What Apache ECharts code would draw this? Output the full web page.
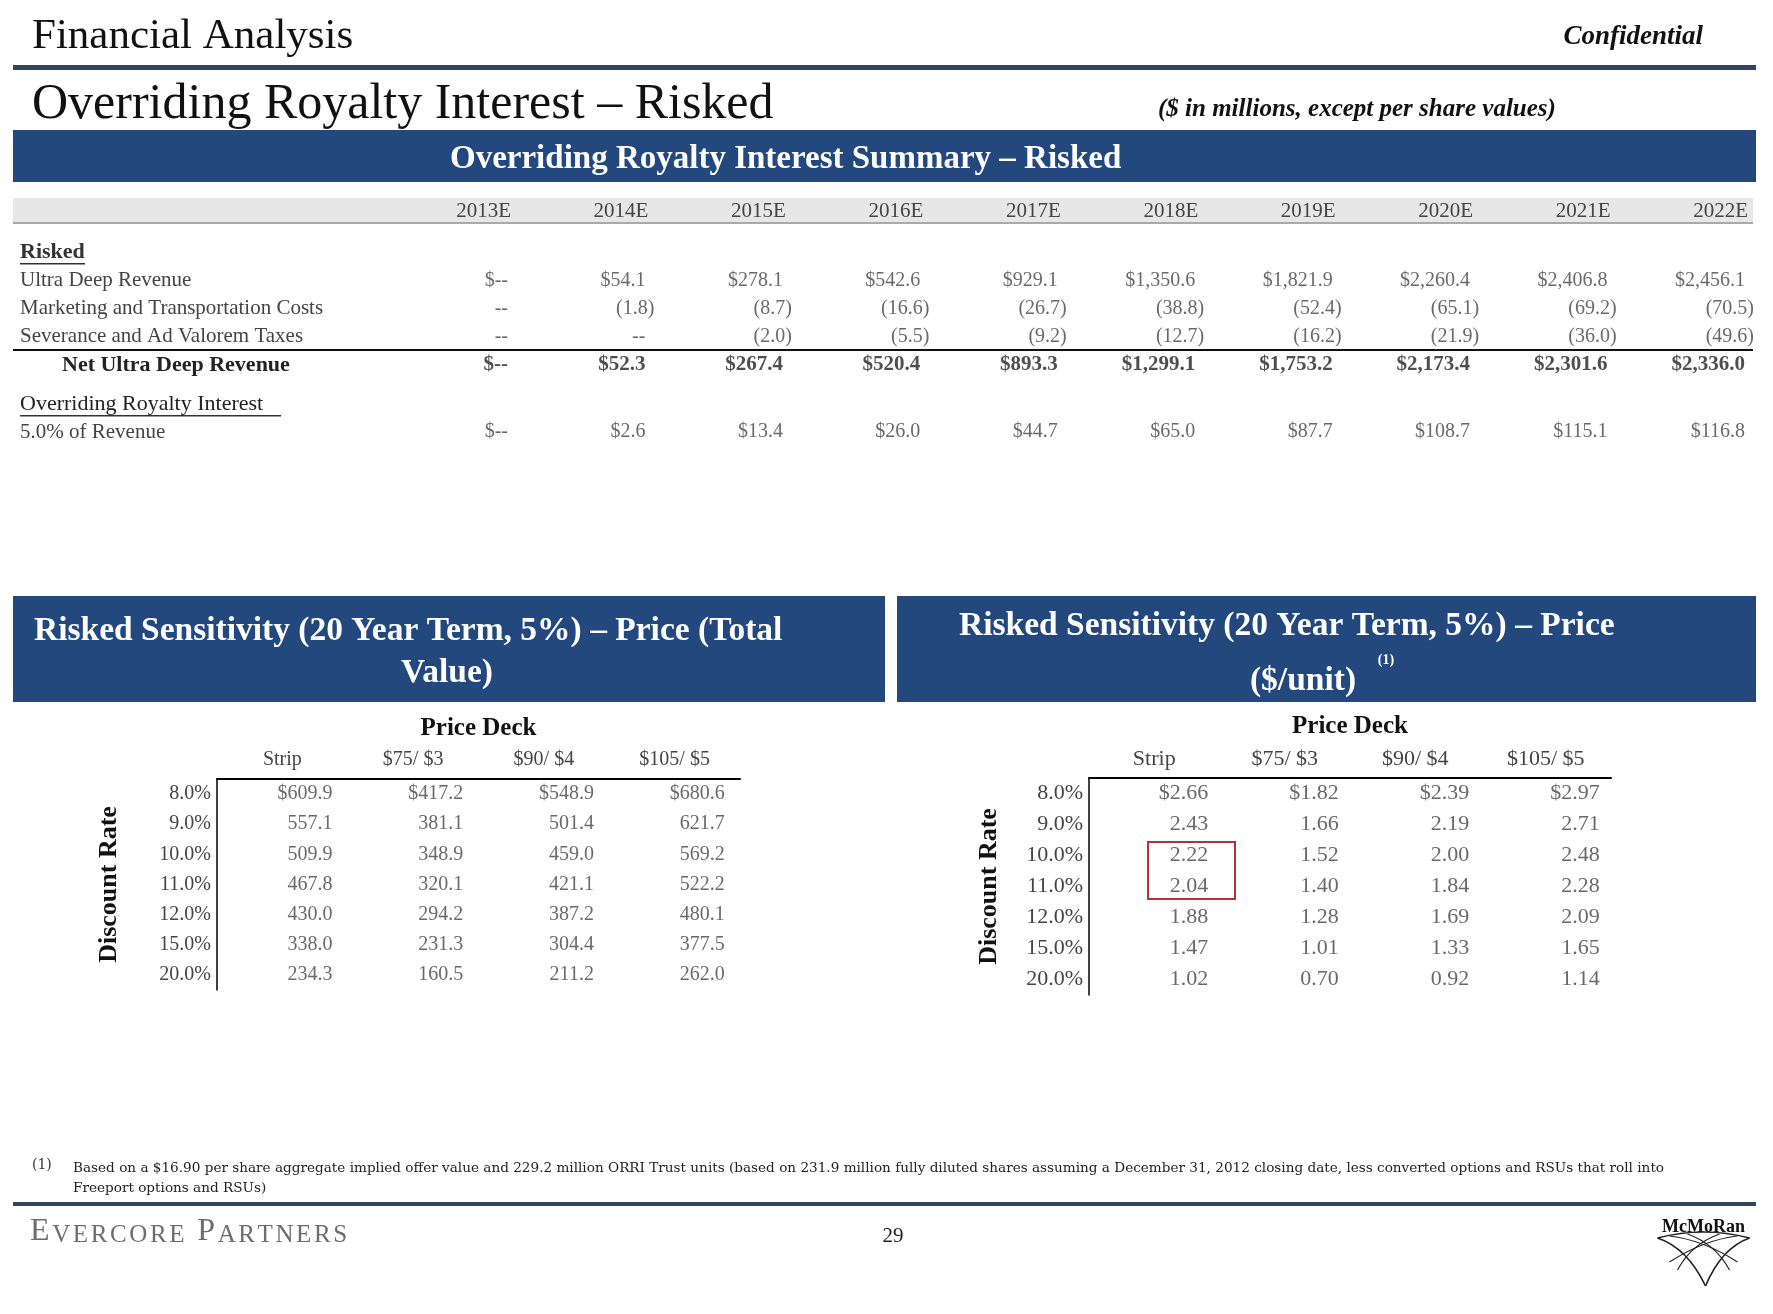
<!DOCTYPE html>
<html>
<head>
<meta charset="utf-8">
<title>Overriding Royalty Interest – Risked</title>
<script src="https://cdn.jsdelivr.net/npm/echarts@6/dist/echarts.min.js"></script>
<style>
  html, body { margin: 0; padding: 0; background: #fff; }
  #chart { width: 1773px; height: 1314px; }
</style>
</head>
<body>
<div id="chart"></div>
<script>
// summary table
const years = ['2013E', '2014E', '2015E', '2016E', '2017E', '2018E', '2019E', '2020E', '2021E', '2022E'];
const summaryRows = ['Risked', 'Ultra Deep Revenue', 'Marketing and Transportation Costs', 'Severance and Ad Valorem Taxes', 'Net Ultra Deep Revenue'];
const orriRows = ['Overriding Royalty Interest', '5.0% of Revenue'];
const ultraDeepRevenue = [null, 54.1, 278.1, 542.6, 929.1, 1350.6, 1821.9, 2260.4, 2406.8, 2456.1];
const marketingCosts = [null, -1.8, -8.7, -16.6, -26.7, -38.8, -52.4, -65.1, -69.2, -70.5];
const severanceTaxes = [null, null, -2.0, -5.5, -9.2, -12.7, -16.2, -21.9, -36.0, -49.6];
const netRevenue = [null, 52.3, 267.4, 520.4, 893.3, 1299.1, 1753.2, 2173.4, 2301.6, 2336.0];
const orriRevenue = [null, 2.6, 13.4, 26.0, 44.7, 65.0, 87.7, 108.7, 115.1, 116.8];

// sensitivity tables
const priceDecks = ['Strip', '$75/ $3', '$90/ $4', '$105/ $5'];
const discountRates = ['8.0%', '9.0%', '10.0%', '11.0%', '12.0%', '15.0%', '20.0%'];
const totalStrip = [609.9, 557.1, 509.9, 467.8, 430.0, 338.0, 234.3];
const total75 = [417.2, 381.1, 348.9, 320.1, 294.2, 231.3, 160.5];
const total90 = [548.9, 501.4, 459.0, 421.1, 387.2, 304.4, 211.2];
const total105 = [680.6, 621.7, 569.2, 522.2, 480.1, 377.5, 262.0];
const unitStrip = [2.66, 2.43, 2.22, 2.04, 1.88, 1.47, 1.02];
const unit75 = [1.82, 1.66, 1.52, 1.40, 1.28, 1.01, 0.70];
const unit90 = [2.39, 2.19, 2.00, 1.84, 1.69, 1.33, 0.92];
const unit105 = [2.97, 2.71, 2.48, 2.28, 2.09, 1.65, 1.14];

const SERIF = "'Liberation Serif', 'Times New Roman', serif";
const NAVY = '#23487e';
const RULE = '#2f4560';

function fmtMoney(v, dollar, digits) {
  if (v == null) return dollar ? '$--' : '--';
  const s = Math.abs(v).toFixed(digits).replace(/\B(?=(\d{3})+(?!\d))/g, ',');
  if (v < 0) return '(' + s + ')';
  return (dollar ? '$' : '') + s;
}

// one scatter series per table row, labels only
function rowSeries(values, rowIdx, grid, dollar, bold) {
  return {
    type: 'scatter',
    xAxisIndex: grid,
    yAxisIndex: grid,
    symbolSize: 0,
    silent: true,
    data: values.map((v, i) => ({
      value: [i, rowIdx],
      txt: fmtMoney(v, dollar, 1),
      label: { offset: [v != null && v < 0 ? 6 : -3, 0] }
    })),
    label: {
      show: true,
      position: 'left',
      distance: 0,
      formatter: p => p.data.txt,
      fontFamily: SERIF,
      fontSize: bold ? 21 : 20,
      fontWeight: bold ? 'bold' : 'normal',
      color: bold ? '#222' : '#444'
    }
  };
}

// one scatter series per price deck column
function colSeries(values, colIdx, grid, digits, fontSize, offsetX) {
  return {
    type: 'scatter',
    xAxisIndex: grid,
    yAxisIndex: grid,
    symbolSize: 0,
    silent: true,
    data: values.map((v, i) => ({
      value: [colIdx, i],
      txt: (i === 0 ? '$' : '') + v.toFixed(digits)
    })),
    label: {
      show: true,
      position: 'left',
      distance: 0,
      offset: [offsetX, 0],
      formatter: p => p.data.txt,
      fontFamily: SERIF,
      fontSize: fontSize,
      color: '#444'
    }
  };
}

function sensAxes(gridIdx, nameGapX, nameGapY, fontSize) {
  return {
    x: {
      type: 'category',
      gridIndex: gridIdx,
      position: 'top',
      data: priceDecks,
      boundaryGap: true,
      axisLine: { lineStyle: { color: '#000', width: 2 } },
      axisTick: { show: false },
      axisLabel: { interval: 0, margin: 19, verticalAlign: 'middle', fontFamily: SERIF, fontSize: fontSize, color: '#444' },
      name: 'Price Deck',
      nameLocation: 'middle',
      nameGap: nameGapX,
      nameTextStyle: { fontFamily: SERIF, fontSize: 25, fontWeight: 'bold', color: '#111' }
    },
    y: {
      type: 'category',
      gridIndex: gridIdx,
      inverse: true,
      data: discountRates,
      boundaryGap: true,
      axisLine: { lineStyle: { color: '#000', width: 1.5 } },
      axisTick: { show: false },
      axisLabel: { interval: 0, margin: 6, fontFamily: SERIF, fontSize: fontSize, color: '#444' },
      name: 'Discount Rate',
      nameLocation: 'middle',
      nameGap: nameGapY,
      nameRotate: 90,
      nameTextStyle: { fontFamily: SERIF, fontSize: 26, fontWeight: 'bold', color: '#111' }
    }
  };
}

const leftAxes = sensAxes(2, 38, 95, 20);
const rightAxes = sensAxes(3, 39, 87, 22);

// spaced small caps for the footer name
function smallCaps(word) {
  return word.split('').map((ch, i) => (i === 0 ? '{big|' : '{sm|') + ch + '}').join('');
}

const chart = echarts.init(document.getElementById('chart'), null, { renderer: 'canvas' });

const option = {
  backgroundColor: '#fff',
  animation: false,
  grid: [
    { left: 511, right: 25, top: 252, height: 113 },
    { left: 511, right: 25, top: 404, height: 28 },
    { left: 217, width: 523, top: 779, height: 211 },
    { left: 1089, width: 522, top: 778, height: 217 }
  ],
  xAxis: [
    {
      type: 'category', gridIndex: 0, position: 'top', data: years, boundaryGap: false,
      axisLine: { show: false }, axisTick: { show: false },
      axisLabel: { interval: 0, margin: 41, align: 'right', verticalAlign: 'middle', fontFamily: SERIF, fontSize: 21, color: '#444' }
    },
    { type: 'category', gridIndex: 1, data: years, boundaryGap: false, show: false },
    leftAxes.x,
    rightAxes.x
  ],
  yAxis: [
    {
      type: 'category', gridIndex: 0, inverse: true, data: summaryRows, boundaryGap: false,
      axisLine: { show: false }, axisTick: { show: false },
      axisLabel: {
        interval: 0, margin: 491, align: 'left', fontFamily: SERIF, fontSize: 21, color: '#444',
        formatter: v => v === 'Risked' ? '{b|' + v + '}' : (v === 'Net Ultra Deep Revenue' ? '{net|' + v + '}' : v),
        rich: {
          b: { fontFamily: SERIF, fontSize: 22, fontWeight: 'bold', color: '#333' },
          net: { fontFamily: SERIF, fontSize: 22, fontWeight: 'bold', color: '#222', padding: [0, 0, 0, 42] }
        }
      }
    },
    {
      type: 'category', gridIndex: 1, inverse: true, data: orriRows, boundaryGap: false,
      axisLine: { show: false }, axisTick: { show: false },
      axisLabel: {
        interval: 0, margin: 491, align: 'left', fontFamily: SERIF, fontSize: 21, color: '#444',
        formatter: v => v === 'Overriding Royalty Interest' ? '{h|' + v + '}' : v,
        rich: { h: { fontFamily: SERIF, fontSize: 22, color: '#222' } }
      }
    },
    leftAxes.y,
    rightAxes.y
  ],
  series: [
    rowSeries(ultraDeepRevenue, 1, 0, true, false),
    rowSeries(marketingCosts, 2, 0, false, false),
    rowSeries(severanceTaxes, 3, 0, false, false),
    rowSeries(netRevenue, 4, 0, true, true),
    rowSeries(orriRevenue, 1, 1, true, false),
    colSeries(totalStrip, 0, 2, 1, 20, 50),
    colSeries(total75, 1, 2, 1, 20, 50),
    colSeries(total90, 2, 2, 1, 20, 50),
    colSeries(total105, 3, 2, 1, 20, 50),
    colSeries(unitStrip, 0, 3, 2, 22, 54),
    colSeries(unit75, 1, 3, 2, 22, 54),
    colSeries(unit90, 2, 3, 2, 22, 54),
    colSeries(unit105, 3, 3, 2, 22, 54)
  ],
  graphic: [
    // page header
    { type: 'text', left: 32, top: 15, style: { text: 'Financial Analysis', font: '43px ' + SERIF, fill: '#111' } },
    { type: 'text', right: 70, top: 24, style: { text: 'Confidential', font: 'italic bold 27px ' + SERIF, fill: '#111' } },
    { type: 'rect', shape: { x: 13, y: 65, width: 1743, height: 5 }, style: { fill: RULE } },
    { type: 'text', left: 32, top: 80, style: { text: 'Overriding Royalty Interest \u2013 Risked', font: '50px ' + SERIF, fill: '#111' } },
    { type: 'text', left: 1158, top: 97, style: { text: '($ in millions, except per share values)', font: 'italic bold 25px ' + SERIF, fill: '#111' } },
    { type: 'rect', shape: { x: 13, y: 130, width: 1743, height: 52 }, style: { fill: NAVY } },
    { type: 'text', left: 450, top: 143, style: { text: 'Overriding Royalty Interest Summary \u2013 Risked', font: 'bold 33px ' + SERIF, fill: '#fff' } },

    // summary table furniture
    { type: 'rect', z: -1, shape: { x: 13, y: 198, width: 1740, height: 25 }, style: { fill: '#e7e7e7' } },
    { type: 'rect', z: -1, shape: { x: 13, y: 222, width: 1740, height: 2 }, style: { fill: '#a9a9a9' } },
    { type: 'rect', shape: { x: 13, y: 349, width: 1740, height: 2 }, style: { fill: '#111' } },
    { type: 'rect', shape: { x: 20, y: 263, width: 65, height: 1.5 }, style: { fill: '#333' } },
    { type: 'rect', shape: { x: 20, y: 415, width: 261, height: 1.5 }, style: { fill: '#333' } },

    // sensitivity banners
    { type: 'rect', shape: { x: 13, y: 596, width: 872, height: 106 }, style: { fill: NAVY } },
    { type: 'text', left: 34, top: 614, style: { text: 'Risked Sensitivity (20 Year Term, 5%) \u2013 Price (Total', font: 'bold 33.5px ' + SERIF, fill: '#fff' } },
    { type: 'text', x: 447, y: 673, style: { text: 'Value)', font: 'bold 33.5px ' + SERIF, fill: '#fff', align: 'center', verticalAlign: 'middle' } },
    { type: 'rect', shape: { x: 897, y: 596, width: 859, height: 106 }, style: { fill: NAVY } },
    { type: 'text', left: 959, top: 609, style: { text: 'Risked Sensitivity (20 Year Term, 5%) \u2013 Price', font: 'bold 33.5px ' + SERIF, fill: '#fff' } },
    { type: 'text', x: 1303, y: 681, style: { text: '($/unit)', font: 'bold 33.5px ' + SERIF, fill: '#fff', align: 'center', verticalAlign: 'middle' } },
    { type: 'text', x: 1386, y: 660, style: { text: '(1)', font: 'bold 14px ' + SERIF, fill: '#fff', align: 'center', verticalAlign: 'middle' } },

    // highlight box
    { type: 'rect', shape: { x: 1148, y: 842, width: 87, height: 57 }, style: { fill: 'none', stroke: '#b5313a', lineWidth: 2 } },

    // footnote and footer
    { type: 'text', left: 32, top: 1158, style: { text: '(1)', font: '14px \'DejaVu Serif\', serif', fill: '#333' } },
    {
      type: 'text', left: 73, top: 1158,
      style: {
        text: 'Based on a $16.90 per share aggregate implied offer value and 229.2 million ORRI Trust units (based on 231.9 million fully diluted shares assuming a December 31, 2012 closing date, less converted options and RSUs that roll into\nFreeport options and RSUs)',
        font: '13.6px \'DejaVu Serif\', serif', fill: '#222', lineHeight: 20
      }
    },
    { type: 'rect', shape: { x: 13, y: 1202, width: 1743, height: 4 }, style: { fill: RULE } },
    {
      type: 'text', left: 30, top: 1216,
      style: {
        text: smallCaps('EVERCORE') + '{sp| }' + smallCaps('PARTNERS'),
        rich: {
          big: { font: '32px ' + SERIF, fill: '#6d6d6d', padding: [0, 1.3], verticalAlign: 'bottom' },
          sm: { font: '25px ' + SERIF, fill: '#6d6d6d', padding: [0, 1.3], verticalAlign: 'bottom' },
          sp: { font: '25px ' + SERIF, padding: [0, 2] }
        }
      }
    },
    { type: 'text', x: 893, y: 1236, style: { text: '29', font: '21px ' + SERIF, fill: '#222', align: 'center', verticalAlign: 'middle' } },

    // McMoRan logo
    {
      type: 'group', left: 1655, top: 1218,
      children: [
        { type: 'text', x: 50, y: 9, style: { text: 'McMoRan', font: 'bold 18px ' + SERIF, fill: '#111', align: 'center', verticalAlign: 'middle' } },
        { type: 'bezierCurve', shape: { x1: 4, y1: 20, x2: 96, y2: 20, cpx1: 50, cpy1: 8 }, style: { stroke: '#222', lineWidth: 1.4, fill: 'none' } },
        { type: 'bezierCurve', shape: { x1: 4, y1: 20, x2: 52, y2: 68, cpx1: 34, cpy1: 30 }, style: { stroke: '#222', lineWidth: 1.6, fill: 'none' } },
        { type: 'bezierCurve', shape: { x1: 96, y1: 20, x2: 52, y2: 68, cpx1: 68, cpy1: 30 }, style: { stroke: '#222', lineWidth: 1.6, fill: 'none' } },
        { type: 'bezierCurve', shape: { x1: 16, y1: 18, x2: 84, y2: 44, cpx1: 50, cpy1: 22 }, style: { stroke: '#222', lineWidth: 1.2, fill: 'none' } },
        { type: 'bezierCurve', shape: { x1: 84, y1: 18, x2: 16, y2: 44, cpx1: 50, cpy1: 22 }, style: { stroke: '#222', lineWidth: 1.2, fill: 'none' } },
        { type: 'bezierCurve', shape: { x1: 34, y1: 16, x2: 76, y2: 52, cpx1: 62, cpy1: 26 }, style: { stroke: '#222', lineWidth: 1.2, fill: 'none' } },
        { type: 'bezierCurve', shape: { x1: 66, y1: 16, x2: 24, y2: 52, cpx1: 38, cpy1: 26 }, style: { stroke: '#222', lineWidth: 1.2, fill: 'none' } }
      ]
    }
  ]
};

chart.setOption(option);
window.addEventListener('resize', () => chart.resize());
</script>
</body>
</html>
